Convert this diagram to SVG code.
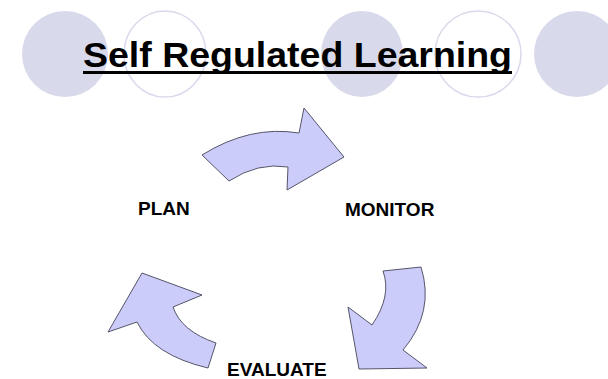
<svg xmlns="http://www.w3.org/2000/svg" width="608" height="379" viewBox="0 0 608 379">
<style>
.bgf{fill:#d9d9ec;stroke:none}
.bgo{fill:none;stroke:#d9d9ec;stroke-width:1.5}
.arr{fill:#ccccfa;stroke:#55556a;stroke-width:1;stroke-linejoin:miter}
.lbl{font-family:"Liberation Sans",Arial,sans-serif;font-weight:bold;font-size:19px;fill:#000}
.title{font-family:"Liberation Sans",Arial,sans-serif;font-weight:bold;font-size:35px;fill:#000}
</style>
<rect width="608" height="379" fill="#fff"/>
<g id="background">
<ellipse class="bgf" cx="65" cy="54" rx="43" ry="43"/>
<ellipse class="bgo" cx="165" cy="54" rx="41" ry="43"/>
<ellipse class="bgf" cx="362" cy="54" rx="41" ry="43"/>
<ellipse class="bgo" cx="478" cy="54" rx="43" ry="43"/>
<ellipse class="bgf" cx="577" cy="54" rx="43" ry="43"/>
</g>
<g id="title">
<text class="title" x="83" y="66.5" textLength="429" lengthAdjust="spacingAndGlyphs">Self Regulated Learning</text>
<rect x="83" y="71" width="429" height="3" fill="#000"/>
</g>
<g id="connectors">
<path class="arr" d="M202,155 Q250,125 299,133 L304,108 L344,157 L287,190 L288,167 Q258,162 229,181 Z"/>
<path class="arr" d="M383,271 L421,267 Q435,312 403,350 L427,368 L359,369 L348,307 L372,325 Q392,296 383,271 Z"/>
<path class="arr" d="M142,273 L202,295 L173,307 Q181,331 216,343 L208,368 Q153,355 137,322 L108,332 Z"/>
</g>
<g id="plan"><text class="lbl" x="138" y="215">PLAN</text></g>
<g id="monitor"><text class="lbl" x="345" y="216">MONITOR</text></g>
<g id="evaluate"><text class="lbl" x="227" y="376">EVALUATE</text></g>
</svg>
